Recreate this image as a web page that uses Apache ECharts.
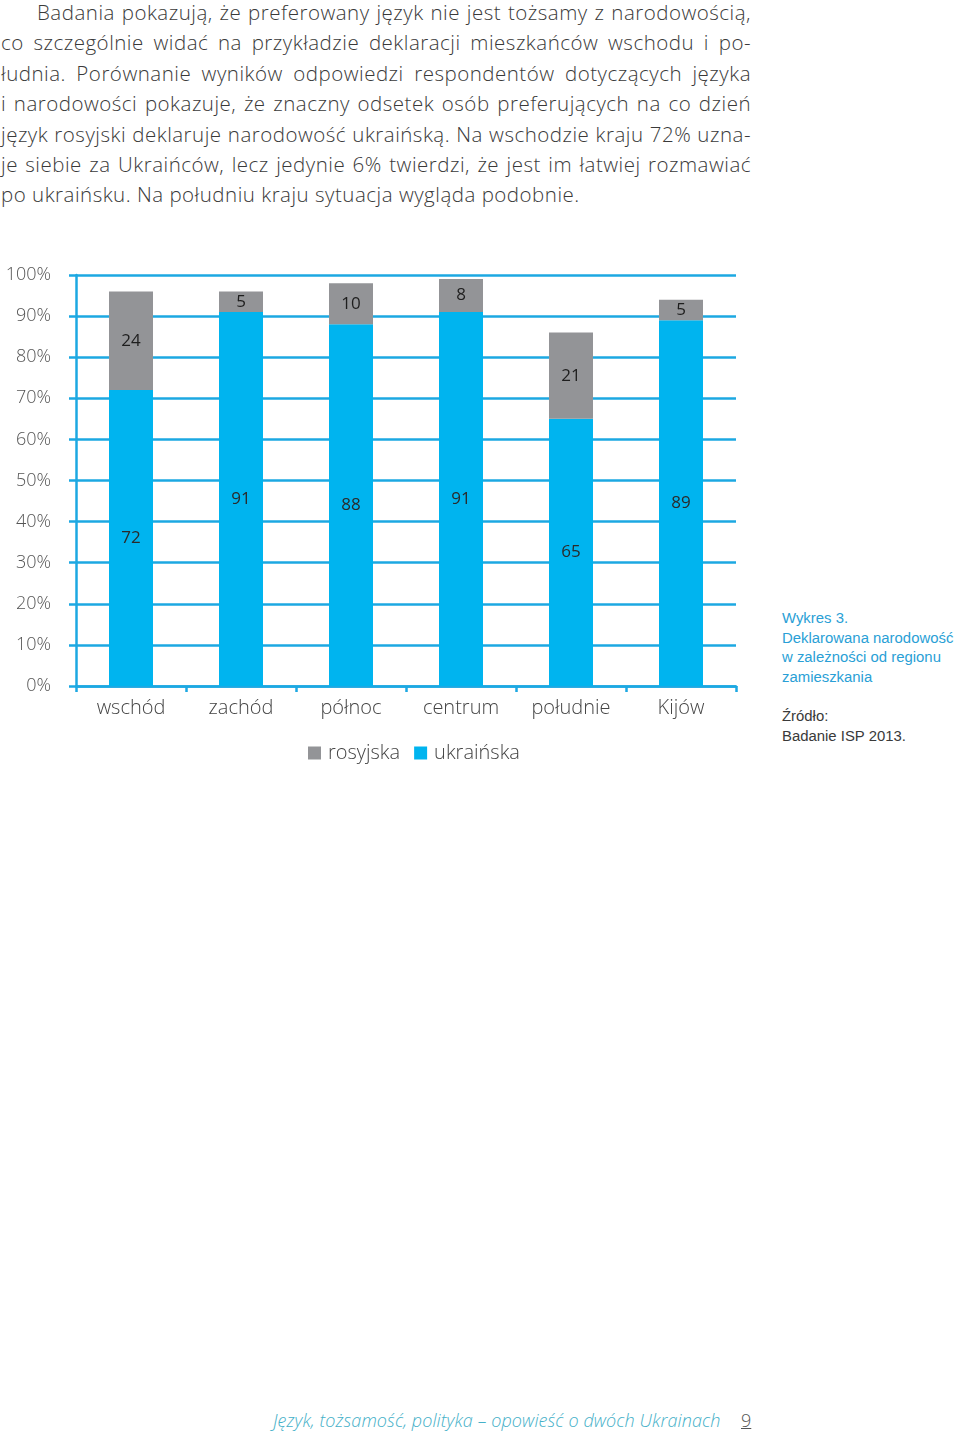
<!DOCTYPE html>
<html>
<head>
<meta charset="utf-8">
<script src="https://cdn.jsdelivr.net/npm/echarts@6/dist/echarts.min.js"></script>
<style>
  html, body { margin:0; padding:0; background:#fff; }
  body { width:960px; height:1436px; position:relative; overflow:hidden; font-family:"Open Sans", Lato, sans-serif; }
  .para { position:absolute; left:1px; top:-3px; width:750px; font-size:20.5px; font-weight:300; color:#3a3a3a; letter-spacing:0.5px; }
  .para div { height:30.4px; line-height:30.4px; white-space:nowrap; text-align:justify; text-align-last:justify; }
  .para div.last { text-align:left; text-align-last:left; }
  .para div.first { padding-left:36px; }
  #chart { position:absolute; left:0; top:240px; width:760px; height:540px; }
  .cap { position:absolute; left:782px; top:609px; font-family:"Liberation Sans", Arial, sans-serif; font-size:14.9px; line-height:19.6px; color:#2a9fd6; }
  .src { position:absolute; left:782px; top:706px; font-family:"Liberation Sans", Arial, sans-serif; font-size:14.9px; line-height:20px; color:#3a3a3a; }
  .foot { position:absolute; left:273px; top:1408px; font-size:18px; letter-spacing:0.1px; font-style:italic; font-weight:300; color:#45b0c8; white-space:nowrap; }
  .page { position:absolute; left:741px; top:1408px; font-size:18px; font-weight:300; color:#555; text-decoration:underline; }
</style>
</head>
<body>
<div class="para">
  <div class="first">Badania pokazują, że preferowany język nie jest tożsamy z narodowością,</div>
  <div>co szczególnie widać na przykładzie deklaracji mieszkańców wschodu i po-</div>
  <div>łudnia. Porównanie wyników odpowiedzi respondentów dotyczących języka</div>
  <div>i narodowości pokazuje, że znaczny odsetek osób preferujących na co dzień</div>
  <div>język rosyjski deklaruje narodowość ukraińską. Na wschodzie kraju 72% uzna-</div>
  <div>je siebie za Ukraińców, lecz jedynie 6% twierdzi, że jest im łatwiej rozmawiać</div>
  <div class="last">po ukraińsku. Na południu kraju sytuacja wygląda podobnie.</div>
</div>
<div id="chart"></div>
<div class="cap">Wykres 3.<br>Deklarowana narodowość<br>w zależności od regionu<br>zamieszkania</div>
<div class="src">Źródło:<br>Badanie ISP 2013.</div>
<div class="foot">Język, tożsamość, polityka – opowieść o dwóch Ukrainach</div>
<div class="page">9</div>
<script>
const categories = ['wschód', 'zachód', 'północ', 'centrum', 'południe', 'Kijów'];
const ukrainska = [72, 91, 88, 91, 65, 89];
const rosyjska = [24, 5, 10, 8, 21, 5];
const yTicks = [0, 10, 20, 30, 40, 50, 60, 70, 80, 90, 100];

const BLUE = '#00b4ef';
const GREY = '#939497';
const LINE = '#1ca8e2';
const FONT = '"Open Sans", Lato, sans-serif';

const chart = echarts.init(document.getElementById('chart'), null, { renderer: 'canvas' });
chart.setOption({
  animation: false,
  textStyle: { fontFamily: FONT },
  grid: { left: 76, right: 24, top: 35, bottom: 94 },
  legend: {
    left: 303, top: 498,
    itemWidth: 13, itemHeight: 13, itemGap: 14,
    icon: 'rect',
    data: ['rosyjska', 'ukraińska'],
    textStyle: { fontSize: 20, color: '#444', fontFamily: FONT, fontWeight: 300, padding: [0, 0, 0, 2] }
  },
  xAxis: {
    type: 'category',
    data: categories,
    axisLine: { lineStyle: { color: LINE, width: 2.5 } },
    axisTick: { show: true, length: 6, lineStyle: { color: LINE, width: 2.5 } },
    axisLabel: { fontSize: 20, color: '#444', margin: 12, fontWeight: 300 }
  },
  yAxis: {
    type: 'value',
    min: yTicks[0], max: yTicks[yTicks.length - 1], interval: 10,
    axisLine: { show: true, lineStyle: { color: LINE, width: 2.5 } },
    axisTick: { show: true, length: 7, lineStyle: { color: LINE, width: 2.5 } },
    splitLine: { lineStyle: { color: LINE, width: 2.5 } },
    axisLabel: { formatter: '{value}%', fontSize: 18, color: '#555', margin: 25, fontWeight: 300 }
  },
  series: [
    {
      name: 'ukraińska', type: 'bar', stack: 'a', barWidth: 44,
      data: ukrainska,
      itemStyle: { color: BLUE },
      label: { show: true, position: 'inside', color: '#2a2a2a', fontSize: 17, fontFamily: FONT }
    },
    {
      name: 'rosyjska', type: 'bar', stack: 'a', barWidth: 44,
      data: rosyjska,
      itemStyle: { color: GREY },
      label: { show: true, position: 'inside', color: '#1e1e1e', fontSize: 17, fontFamily: FONT }
    }
  ]
});
</script>
</body>
</html>
